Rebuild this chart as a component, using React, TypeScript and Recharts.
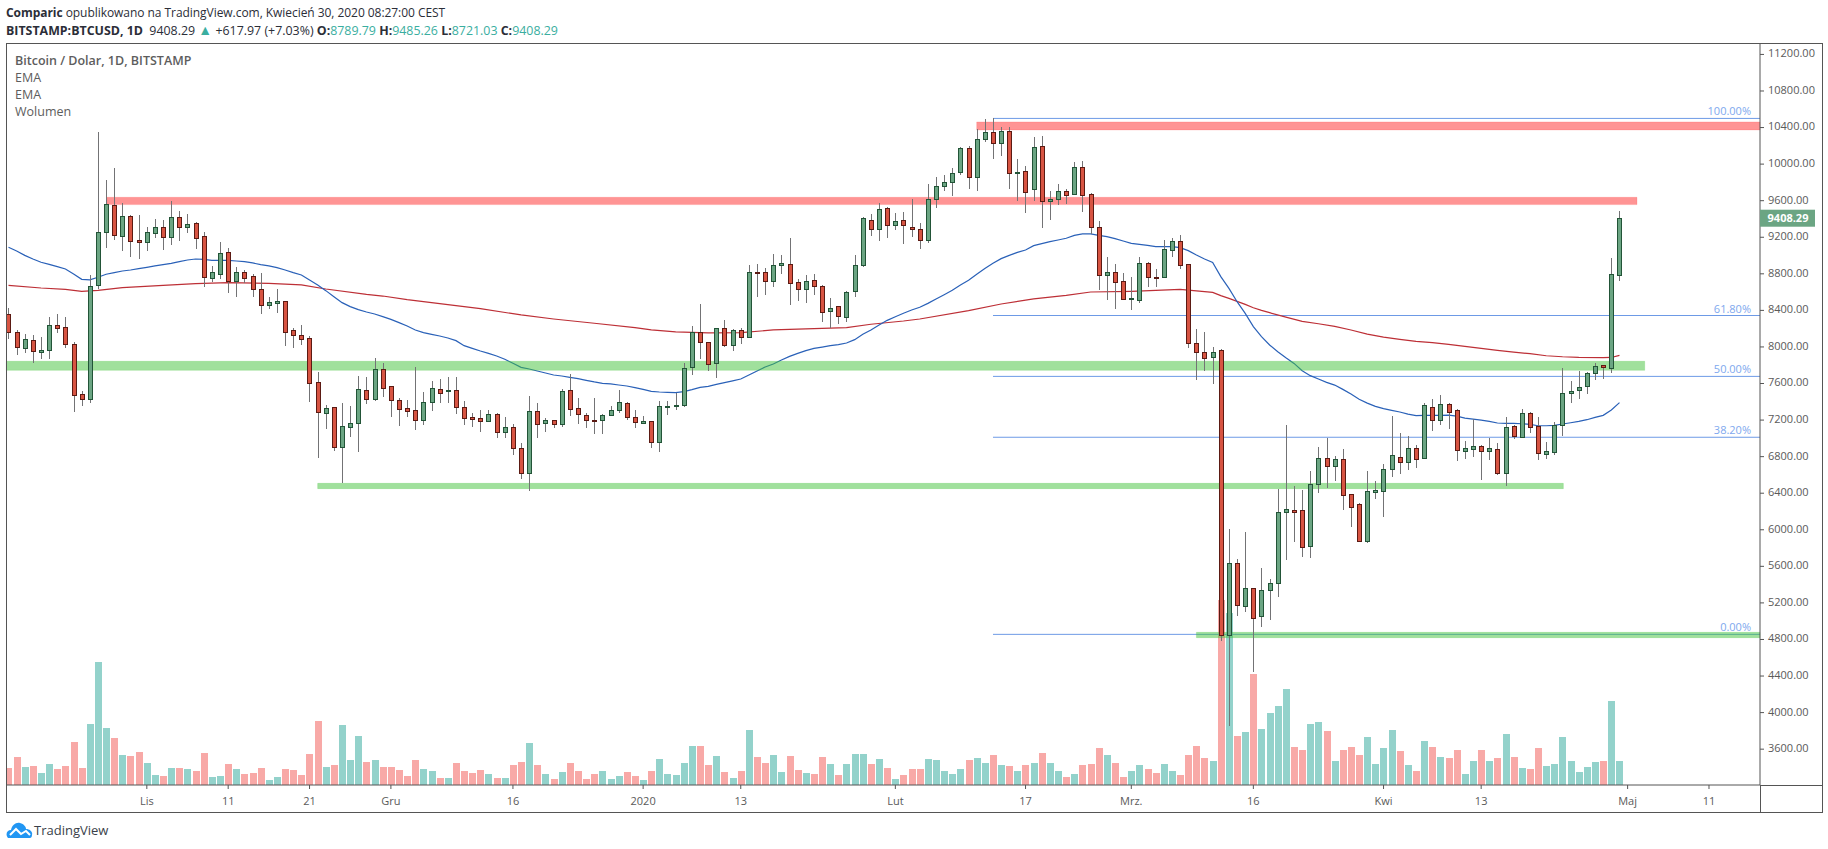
import React from 'react'
import { ComposedChart, Bar, Line, XAxis, YAxis, ReferenceArea, ReferenceLine } from 'recharts'

// BTCUSD daily, 15 Oct 2019 - 30 Apr 2020
const opens = [
  8357,8167,7992,8072,7948,7970,8237,8215,8029,7482,
  7434,8681,9261,9549,9218,9429,9166,9152,9250,9309,
  9207,9418,9316,9353,9210,8758,8802,9035,8725,8816,
  8773,8630,8463,8485,8499,8182,8127,8094,7613,7281,
  7339,6909,7128,7172,7525,7434,7755,7569,7416,7328,
  7307,7204,7401,7536,7514,7525,7339,7234,7219,7186,
  7263,7073,7121,6891,6625,7296,7164,7197,7153,7525,
  7329,7252,7201,7197,7252,7307,7383,7230,7164,7186,
  6957,7339,7358,7361,7777,8160,8051,7821,8204,8018,
  8182,8105,8820,8817,8718,8900,8904,8707,8631,8729,
  8663,8390,8445,8324,8609,8893,9385,9287,9517,9338,
  9385,9309,9287,9167,9615,9757,9801,9911,10173,9856,
  10272,10348,10228,10359,9907,9922,9725,10195,9593,9615,
  9703,9670,9965,9670,9309,8784,8817,8718,8528,8517,
  8915,8765,8762,9057,9156,8904,8040,7941,7894,7963,
  4849,5633,5170,5359,5060,5345,5421,6198,6213,6213,
  5826,6505,6782,6702,6771,6388,6278,5881,6417,6428,
  6669,6793,6745,6891,6789,7340,7205,7373,7307,6866,
  6888,6913,6866,6880,6625,7132,7019,7274,7132,6833,
  6855,7143,7500,7525,7569,7711,7799,7766,8789.79,
]
const closes = [
  8160,7996,8083,7959,7963,8237,8211,8029,7478,7434,
  8663,9254,9560,9221,9429,9163,9152,9254,9309,9207,
  9418,9316,9342,9196,8769,8816,9024,8725,8816,8758,
  8638,8463,8488,8499,8167,8127,8091,7609,7292,7328,
  6909,7131,7164,7536,7434,7755,7555,7416,7317,7303,
  7204,7394,7547,7500,7525,7347,7219,7215,7194,7263,
  7066,7121,6891,6617,7296,7153,7197,7153,7515,7318,
  7263,7197,7194,7252,7307,7394,7230,7175,7186,6957,
  7350,7354,7365,7766,8160,8051,7810,8204,8018,8182,
  8105,8817,8813,8718,8893,8915,8696,8631,8718,8663,
  8379,8423,8335,8598,8893,9407,9287,9506,9331,9374,
  9331,9287,9167,9615,9757,9801,9900,10173,9856,10272,
  10348,10228,10359,9900,9914,9699,10184,9593,9615,9703,
  9666,9965,9659,9309,8784,8817,8707,8528,8536,8915,
  8762,8758,9068,9156,8893,8040,7941,7883,7941,4849,
  5633,5181,5359,5039,5338,5414,6191,6224,6198,5815,
  6497,6782,6702,6771,6384,6253,5881,6421,6432,6661,
  6815,6745,6891,6778,7362,7205,7373,7292,6877,6891,
  6913,6866,6891,6625,7121,7030,7274,7128,6844,6858,
  7143,7493,7515,7558,7711,7788,7777,8795,9408.29,
]
const highs = [
  8422,8185,8138,8127,8113,8324,8361,8324,8058,7514,
  8787,10352,9827,9958,9575,9444,9444,9309,9400,9389,
  9597,9487,9455,9371,9254,8886,9145,9079,8875,8838,
  8795,8809,8547,8630,8503,8204,8240,8116,7726,7365,
  7347,7387,7354,7682,7671,7879,7824,7573,7441,7420,
  7781,7507,7628,7649,7671,7671,7405,7274,7307,7307,
  7274,7234,7157,6946,7463,7387,7219,7197,7536,7701,
  7442,7274,7442,7263,7350,7529,7394,7307,7241,7186,
  7405,7405,7493,7821,8226,8470,8051,8204,8295,8193,
  8204,8897,8908,8864,9017,9006,9192,8744,8787,8798,
  8674,8532,8445,8609,9006,9418,9451,9571,9528,9462,
  9477,9619,9353,9783,9860,9881,9954,10184,10199,10385,
  10494,10501,10403,10403,10053,9980,10297,10308,9706,9783,
  9728,10024,10035,9681,9378,8984,8908,8809,8765,8984,
  8930,8853,9170,9192,9225,8904,8196,8164,8000,7974,
  6005,5680,5976,5359,5582,5462,6446,7146,6479,6435,
  6643,6906,7004,6807,6884,6388,6289,6643,6534,6716,
  7245,7059,7026,6928,7384,7430,7470,7384,7318,6971,
  7208,6928,7008,6950,7230,7146,7318,7289,7230,6960,
  7176,7770,7628,7737,7722,7825,7803,8970,9485.26,
]
const lows = [
  8087,7912,7937,7821,7868,7868,8156,7992,7288,7354,
  7387,8638,9083,9170,9050,8984,8962,9050,9196,9061,
  9115,9159,9247,9072,8660,8711,8743,8590,8547,8696,
  8547,8361,8419,8371,8010,7989,8021,7398,6785,7106,
  6862,6512,7015,6851,7376,7412,7456,7237,7135,7237,
  7091,7150,7303,7390,7390,7270,7146,7124,7073,7183,
  7008,7008,6822,6559,6428,7008,7073,7117,7124,7248,
  7161,7117,7044,7051,7241,7281,7204,7117,7153,6898,
  6854,7259,7314,7347,7697,7872,7741,7664,8003,7959,
  8036,8098,8550,8568,8660,8798,8463,8507,8485,8568,
  8277,8207,8251,8277,8550,8878,9218,9163,9196,9280,
  9130,9207,9075,9141,9524,9706,9652,9885,9732,9710,
  10246,10056,10089,9732,9597,9466,9597,9302,9389,9553,
  9564,9663,9477,9232,8623,8514,8415,8525,8404,8485,
  8656,8656,8758,8984,8853,7992,7639,7741,7595,4787,
  3853,5057,5100,4444,4936,5013,5265,5669,5866,5702,
  5691,6402,6457,6534,6216,6031,5866,5855,6337,6140,
  6578,6610,6654,6676,6775,7081,7146,7103,6753,6775,
  6796,6545,6764,6599,6479,6993,7019,7059,6764,6775,
  6818,7026,7391,7434,7485,7642,7649,7719,8721.03,
]
// relative volume, no scale on the chart
const volumes = [
  17,28,18,19,12,21,16,19,43,17,
  61,123,57,47,30,29,33,22,10,9,
  17,17,16,14,32,8,9,21,16,11,
  12,17,5,8,16,15,10,31,64,18,
  20,60,25,49,23,25,18,18,15,9,
  25,16,14,7,7,22,14,12,15,11,
  7,7,20,23,42,20,11,6,13,22,
  14,6,11,14,6,9,13,9,5,14,
  26,11,10,22,39,39,20,29,13,7,
  14,55,28,22,30,13,29,15,12,11,
  28,21,10,21,31,31,21,26,17,6,
  10,16,16,26,25,14,11,16,25,27,
  22,30,20,19,14,20,22,32,22,14,
  8,11,20,21,37,30,22,8,14,20,
  16,12,21,14,10,30,39,27,24,185,
  172,49,53,111,56,72,79,96,38,35,
  61,63,54,24,35,38,30,48,21,37,
  55,34,20,14,44,38,28,27,35,11,
  24,35,24,27,51,28,17,16,37,19,
  21,48,24,13,18,23,24,84,24,
]
const volumeSides = [
  'rrgrggrrrr','gggrgrrggr','grgrrggrgr','rrggrrrrrg','rgggrgrrrr',
  'rggrgrrrrg','rgrrgrgrgr','rrrgggrrgr','gggggrrgrg','rgrrggrrgr',
  'rgrgggrgrg','rrrgggggrg','grgrgrgrgg','rgrrrgrrgg','rrggrrrrgr',
  'grgrggggrr','ggrgrrrggg','grgrgrgrrg','grgrgrgrrg','ggggggrgg',
].join('')

const ema50 = [
  9090,9050,9002,8962,8926,8904,8878,8853,8798,8740,
  8733,8762,8795,8813,8831,8842,8856,8871,8886,8900,
  8915,8933,8951,8962,8959,8948,8948,8948,8940,8933,
  8919,8900,8886,8867,8842,8813,8787,8733,8678,8616,
  8550,8485,8441,8408,8382,8360,8331,8302,8266,8229,
  8185,8156,8138,8120,8098,8069,8014,7985,7956,7930,
  7901,7865,7821,7777,7759,7737,7715,7693,7682,7668,
  7653,7635,7617,7602,7595,7584,7573,7555,7536,7514,
  7507,7504,7500,7511,7533,7558,7569,7591,7609,7628,
  7649,7693,7737,7781,7814,7857,7897,7930,7959,7985,
  7999,8014,8025,8043,8080,8138,8186,8240,8291,8331,
  8368,8404,8434,8477,8525,8572,8620,8678,8729,8795,
  8857,8915,8966,9002,9035,9061,9108,9130,9152,9170,
  9189,9221,9236,9236,9221,9207,9185,9159,9134,9123,
  9112,9097,9097,9097,9086,9054,9006,8962,8925,8769,
  8641,8495,8367,8222,8112,8021,7948,7882,7820,7740,
  7686,7649,7613,7583,7536,7485,7427,7386,7350,7325,
  7306,7288,7266,7248,7251,7251,7251,7255,7244,7222,
  7211,7200,7186,7168,7164,7164,7160,7153,7138,7138,
  7142,7157,7171,7186,7204,7230,7252,7310,7391,
]
const ema200Days = [0,4,7,9,11,14,19,23,27,32,36,39,44,46,49,55,58,63,67,72,77,79,82,86,90,94,99,103,106,110,112,118,122,126,130,133,138,144,148,149,150,151,152,153,154,155,157,159,161,163,165,167,169,171,173,175,177,179,181,183,185,187,189,191,193,196,197,198]
const ema200 = [8674,8645,8630,8608,8619,8649,8674,8692,8703,8696,8678,8634,8576,8557,8517,8452,8419,8350,8306,8259,8211,8186,8164,8153,8156,8186,8200,8211,8248,8284,8306,8397,8470,8525,8565,8601,8609,8630,8597,8561,8532,8499,8466,8429,8400,8375,8327,8280,8254,8225,8185,8141,8108,8083,8061,8047,8028,8006,7985,7963,7944,7926,7904,7893,7886,7883,7885,7908]

const priceTicks = [3600,4000,4400,4800,5200,5600,6000,6400,6800,7200,7600,8000,8400,8800,9200,9600,10000,10400,10800,11200]
const dayTicks = [17,27,37,47,62,78,90,109,125,138,153,169,181,199,209]
const dayTickLabels = ['Lis','11','21','Gru','16','2020','13','Lut','17','Mrz.','16','Kwi','13','Maj','11']

const fibLevels = [10500, 8344, 7678, 7012, 4856]
const fibLabels = ['100.00%', '61.80%', '50.00%', '38.20%', '0.00%']
const fibStartDay = 121

const zoneLows = [10374, 9557, 7744, 6450, 4820]
const zoneHighs = [10461, 9637, 7843, 6508, 4878]
const zoneStarts = [119, 12.1, -0.27, 38, 146]
const zoneEnds = [215.27, 200.15, 201.1, 191.1, 215.27]
const zoneColors = ['red', 'red', 'green', 'green', 'green']

const table = opens.map((open, i) => ({
  day: i,
  open,
  close: closes[i],
  high: highs[i],
  low: lows[i],
  range: [lows[i], highs[i]],
  volume: volumes[i],
  side: volumeSides[i],
  ema50: ema50[i],
  ema200: ema200Days.includes(i) ? ema200[ema200Days.indexOf(i)] : null,
}))

const FONT = '"Open Sans", sans-serif'
const AXIS = '#555555'

function Candle(props: any) {
  const { x, y, width, height, payload } = props
  const perUnit = height / (payload.high - payload.low)
  const up = payload.close >= payload.open
  const top = y + (payload.high - Math.max(payload.open, payload.close)) * perUnit
  const bottom = y + (payload.high - Math.min(payload.open, payload.close)) * perUnit
  const cx = Math.floor(x + width / 2) + 0.5
  const yTop = Math.round(top) + 0.5
  const yBottom = Math.max(Math.round(bottom) + 0.5, yTop + 1)
  return (
    <g shapeRendering="crispEdges">
      <line x1={cx} x2={cx} y1={y} y2={y + height} stroke="#737375" strokeWidth={1} />
      <rect
        x={cx - 2}
        y={yTop}
        width={4}
        height={yBottom - yTop}
        fill={up ? '#6ba583' : '#d75442'}
        stroke={up ? '#225437' : '#5b1a13'}
        strokeWidth={1}
      />
    </g>
  )
}

function VolumeBar(props: any) {
  const { x, y, width, height, payload } = props
  return (
    <rect
      x={Math.round(x)}
      y={y}
      width={7}
      height={height}
      fill={payload.side === 'g' ? '#93d2cb' : '#f8a9a7'}
      shapeRendering="crispEdges"
    />
  )
}

function FibLabel(text: string) {
  return (props: any) => {
    const vb = props.viewBox
    return (
      <text x={vb.x + vb.width - 9} y={vb.y - 3} textAnchor="end" fontFamily={FONT} fontSize={11} fill="#7ea8ee">
        {text}
      </text>
    )
  }
}

function LastPrice(props: any) {
  const vb = props.viewBox
  const left = vb.x + vb.width
  return (
    <g>
      <rect x={left} y={vb.y - 8.5} width={55} height={17} fill="#6ba583" />
      <text x={left + 28} y={vb.y + 4} textAnchor="middle" fontFamily={FONT} fontSize={11} fontWeight={700} fill="#ffffff">
        9408.29
      </text>
    </g>
  )
}

function TextRow(props: any) {
  return (
    <div style={{ position: 'absolute', whiteSpace: 'nowrap', fontFamily: FONT, lineHeight: '16px', ...props.style }}>
      {props.children}
    </div>
  )
}

const teal = { color: '#3aaea0' }

function App() {
  return (
    <div style={{ position: 'absolute', left: 0, top: 0, width: 1828, height: 849, background: '#fff', overflow: 'hidden' }}>
      <TextRow style={{ left: 6, top: 5, fontSize: 12, letterSpacing: -0.05, color: '#2b2e38' }}>
        <b>Comparic</b> opublikowano na TradingView.com, Kwiecień 30, 2020 08:27:00 CEST
      </TextRow>
      <TextRow style={{ left: 6, top: 22, fontSize: 12.4, color: '#2b2e38' }}>
        <b>BITSTAMP:BTCUSD, 1D</b>&nbsp; 9408.29 <span style={{ ...teal, fontSize: 14 }}>▲</span> +617.97 (+7.03%) <b>O:</b>
        <span style={teal}>8789.79</span> <b>H:</b><span style={teal}>9485.26</span> <b>L:</b>
        <span style={teal}>8721.03</span> <b>C:</b><span style={teal}>9408.29</span>
      </TextRow>

      <ComposedChart
        width={1828}
        height={849}
        data={table}
        margin={{ top: 43, right: 6, bottom: 37, left: 6.3 }}
        style={{ position: 'absolute', left: 0, top: 0 }}
      >
        <XAxis
          xAxisId="days"
          dataKey="day"
          type="number"
          domain={[-0.27, 215.27]}
          allowDataOverflow
          ticks={dayTicks}
          tickFormatter={(d: number) => dayTickLabels[dayTicks.indexOf(d)]}
          interval={0}
          height={27}
          stroke={AXIS}
          tickSize={4}
          tickMargin={8}
          tick={{ fontFamily: FONT, fontSize: 11, fill: '#5a5a5a' }}
        />
        <XAxis xAxisId="volumeDays" dataKey="day" type="number" domain={[-0.27, 215.27]} allowDataOverflow hide />
        <YAxis
          yAxisId="price"
          orientation="right"
          width={62}
          domain={[3208, 11325]}
          allowDataOverflow
          ticks={priceTicks}
          interval={0}
          tickFormatter={(v: number) => v.toFixed(2)}
          stroke={AXIS}
          tickSize={4}
          tickMargin={4}
          tick={{ fontFamily: FONT, fontSize: 11, fill: '#5a5a5a', dy: -1 }}
        />
        <YAxis yAxisId="volume" domain={[0, 742]} allowDataOverflow hide />

        <Bar
          xAxisId="volumeDays"
          yAxisId="volume"
          dataKey="volume"
          barSize={7}
          shape={VolumeBar}
          zIndex={100}
          isAnimationActive={false}
        />

        {fibLevels.map((level, i) => (
          <ReferenceLine
            key={i}
            xAxisId="days"
            yAxisId="price"
            segment={[{ x: fibStartDay, y: level }, { x: 215.27, y: level }]}
            stroke="#6d9ae6"
            strokeWidth={1}
            ifOverflow="visible"
            zIndex={200}
            label={FibLabel(fibLabels[i])}
          />
        ))}

        <Line
          xAxisId="days"
          yAxisId="price"
          dataKey="ema200"
          connectNulls
          dot={false}
          stroke="#bd2f36"
          strokeWidth={1.2}
          activeDot={false}
          zIndex={250}
          isAnimationActive={false}
        />
        <Line
          xAxisId="days"
          yAxisId="price"
          dataKey="ema50"
          dot={false}
          stroke="#2a61b8"
          strokeWidth={1.2}
          activeDot={false}
          zIndex={250}
          isAnimationActive={false}
        />

        {zoneLows.map((low, i) => (
          <ReferenceArea
            key={i}
            xAxisId="days"
            yAxisId="price"
            x1={zoneStarts[i]}
            x2={zoneEnds[i]}
            y1={low}
            y2={zoneHighs[i]}
            fill={zoneColors[i] === 'red' ? '#ff4d4d' : '#41c139'}
            fillOpacity={zoneColors[i] === 'red' ? 0.6 : 0.5}
            stroke={zoneColors[i] === 'red' ? '#ff4d4d' : '#41c139'}
            strokeOpacity={0.2}
            strokeWidth={1}
            ifOverflow="visible"
            zIndex={300}
          />
        ))}

        <ReferenceLine
          xAxisId="days"
          yAxisId="price"
          y={9408.29}
          stroke="none"
          ifOverflow="visible"
          zIndex={600}
          label={LastPrice}
        />

        <Bar
          xAxisId="days"
          yAxisId="price"
          dataKey="range"
          barSize={5}
          shape={Candle}
          zIndex={500}
          isAnimationActive={false}
        />
      </ComposedChart>

      {/* frame around the panes */}
      <div style={{ position: 'absolute', left: 6, top: 43, width: 1815, height: 768, border: `1px solid ${AXIS}`, pointerEvents: 'none' }} />
      <div style={{ position: 'absolute', left: 1760, top: 785, width: 62, height: 1, background: AXIS }} />
      <div style={{ position: 'absolute', left: 1760, top: 785, width: 1, height: 27, background: AXIS }} />

      <TextRow style={{ left: 15, top: 53, fontSize: 12.5, fontWeight: 600, color: '#5d5d5d' }}>Bitcoin / Dolar, 1D, BITSTAMP</TextRow>
      <TextRow style={{ left: 15, top: 70, fontSize: 12.5, color: '#5d5d5d' }}>EMA</TextRow>
      <TextRow style={{ left: 15, top: 87, fontSize: 12.5, color: '#5d5d5d' }}>EMA</TextRow>
      <TextRow style={{ left: 15, top: 104, fontSize: 12.5, color: '#5d5d5d' }}>Wolumen</TextRow>

      <svg style={{ position: 'absolute', left: 6, top: 822 }} width={27} height={17} viewBox="0 0 27 17">
        <path
          d="M2 16 C-1 12 1 8 5 8 C6 3 10 0 14 1 C18 2 20 5 20 7 C24 7 27 10 26 13 C26 15 25 16 24 16 Z"
          fill="#2196f3"
        />
        <path d="M4 13 L10 7 L15 12 L20 9 L24 13" fill="none" stroke="#ffffff" strokeWidth={2} />
      </svg>
      <TextRow style={{ left: 34, top: 822, fontSize: 13, color: '#3a3f4a' }}>TradingView</TextRow>
    </div>
  )
}

export default App
